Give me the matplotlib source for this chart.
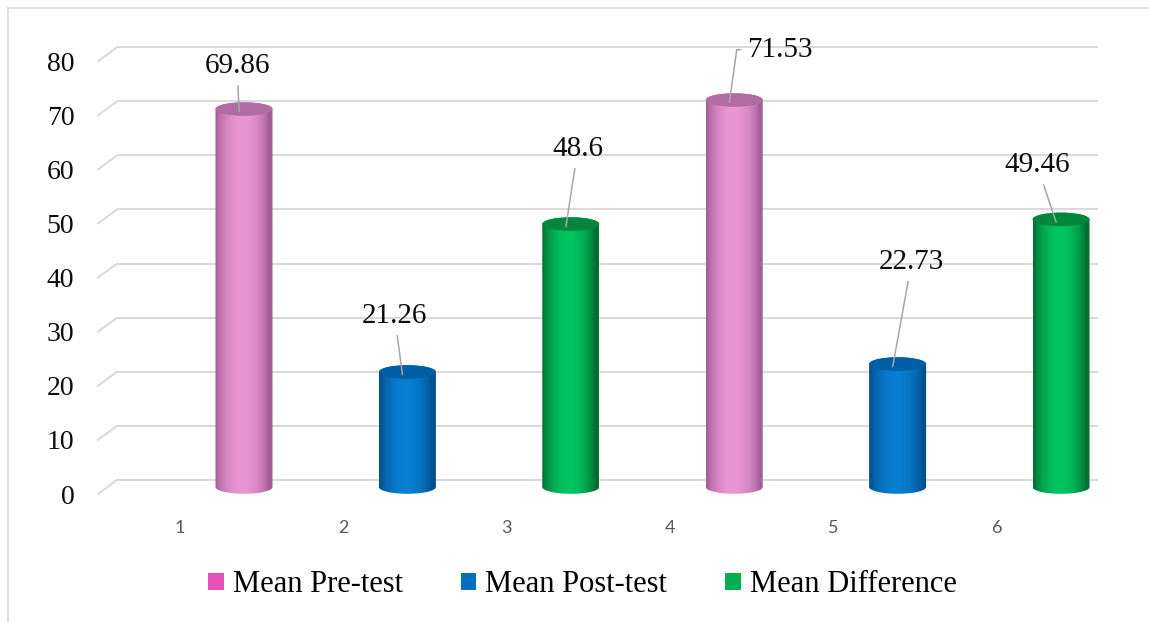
import numpy as np
import matplotlib
matplotlib.use("Agg")
import matplotlib.pyplot as plt
from matplotlib.patches import Patch, Polygon, Ellipse
from matplotlib.lines import Line2D
from matplotlib.colors import to_rgb

# chart data
categories = [1, 2, 3, 4, 5, 6]
series_names = ["Mean Pre-test", "Mean Post-test", "Mean Difference"]
bar_series = [0, 1, 2, 0, 1, 2]          # which series each bar belongs to
bar_values = [69.86, 21.26, 48.6, 71.53, 22.73, 49.46]
y_ticks = [0, 10, 20, 30, 40, 50, 60, 70, 80]

# colours per series: legend swatch, cylinder edge, cylinder centre, cap
legend_colors = ["#e552b8", "#0070c0", "#00b050"]
edge_colors = ["#a25c98", "#00508f", "#006f30"]
mid_colors = ["#ea96d2", "#0a7ed2", "#00c462"]
cap_colors = ["#b26ca4", "#005ea6", "#00873d"]

# label offsets from the top of each cylinder, in pixels
label_offsets = [(-2, 46), (-8, 59), (12, 78), (51, 53), (19, 105), (-19, 57)]

serif = "Liberation Serif"
W, H = 1149, 622
fig = plt.figure(figsize=(W / 100, H / 100), dpi=100)

# plot area in pixels: front edge x=98..1098, y zero at 494
px_per_cat = 163.4
px_per_unit = 5.41
ax_left, ax_right = 98, 1098
y0_px, top_px = 494, 30
ax = fig.add_axes([ax_left / W, 1 - y0_px / H,
                   (ax_right - ax_left) / W, (y0_px - top_px) / H])
xmin = 1 + (ax_left - 180) / px_per_cat
xmax = 1 + (ax_right - 180) / px_per_cat
ymax = (y0_px - top_px) / px_per_unit

# perspective: back wall sits up/right of the front edge
wall_dx = 19 / px_per_cat
wall_dy = 14 / px_per_unit
mid_dy = 7 / px_per_unit                 # cylinders stand at mid depth
bar_shift = 64 / px_per_cat
bar_w = 57 / px_per_cat
cap_h = 6.8 / px_per_unit

grid_c = "#d9d9d9"
for v in y_ticks:
    ax.plot([xmin + wall_dx, xmax], [v + wall_dy, v + wall_dy],
            color=grid_c, lw=1.4, zorder=1, solid_capstyle="butt", clip_on=False)
    ax.plot([xmin, xmin + wall_dx], [v, v + wall_dy],
            color=grid_c, lw=1.4, zorder=1, clip_on=False)


def gradient_row(edge, mid, n=200):
    u = np.linspace(0, 1, n)
    t = np.sin(np.pi * np.clip(u * 1.1 - 0.02, 0, 1)) ** 0.7
    e, m = np.array(to_rgb(edge)), np.array(to_rgb(mid))
    return (e[None, :] * (1 - t[:, None]) + m[None, :] * t[:, None])[None, :, :]


for cat, s, val in zip(categories, bar_series, bar_values):
    cx = cat + bar_shift
    a = bar_w / 2
    yb = mid_dy
    yt = val + mid_dy
    t_top = np.linspace(np.pi, 0, 60)
    t_bot = np.linspace(0, -np.pi, 60)
    pts = np.vstack([
        np.column_stack([cx + a * np.cos(t_top), yt + cap_h * np.sin(t_top)]),
        np.column_stack([cx + a * np.cos(t_bot), yb + cap_h * np.sin(t_bot)]),
    ])
    body = Polygon(pts, closed=True, facecolor="none", edgecolor="none",
                   transform=ax.transData)
    ax.add_patch(body)
    im = ax.imshow(gradient_row(edge_colors[s], mid_colors[s]),
                   extent=[cx - a, cx + a, yb - cap_h, yt + cap_h],
                   aspect="auto", zorder=3, interpolation="bilinear")
    im.set_clip_path(body)
    body.set_clip_on(False)
    im.set_clip_on(True)
    ax.add_patch(Ellipse((cx, yt), 2 * a, 2 * cap_h, facecolor=cap_colors[s],
                         edgecolor="none", zorder=4))

for i, (cat, val) in enumerate(zip(categories, bar_values)):
    cx = cat + bar_shift
    dx, dy = label_offsets[i]
    style = "arc3"
    rel = (0.5, 0.5)
    if i == 3:
        style = "angle,angleA=0,angleB=82,rad=0"
        rel = (0, 0.5)
    ax.annotate(f"{val:g}", xy=(cx - 0.03, val + mid_dy - 0.5),
                xytext=(dx * 0.72, dy * 0.72), textcoords="offset points",
                ha="center", va="center", fontsize=21, family=serif,
                color="#0d0d0d", zorder=6,
                arrowprops=dict(arrowstyle="-", color="#a6a6a6", lw=1.1,
                                shrinkA=3, shrinkB=0, connectionstyle=style,
                                relpos=rel))

ax.set_xlim(xmin, xmax)
ax.set_ylim(0, ymax)
ax.set_xticks(categories)
ax.set_xticklabels([str(c) for c in categories], family="Lato",
                   fontsize=13, color="#595959")
ax.set_yticks(y_ticks)
ax.set_yticklabels([str(v) for v in y_ticks], family=serif, fontsize=20,
                   color="#0d0d0d")
ax.tick_params(axis="x", length=0, pad=19)
ax.tick_params(axis="y", length=0, pad=17)
for sp in ax.spines.values():
    sp.set_visible(False)
ax.patch.set_visible(False)

handles = [Patch(facecolor=c, edgecolor="none") for c in legend_colors]
fig.legend(handles, series_names, loc="center", bbox_to_anchor=(0.507, 0.06),
           ncol=3, frameon=False, prop={"family": serif, "size": 22},
           handlelength=0.5, handleheight=0.5, handletextpad=0.3,
           columnspacing=1.9)

# chart frame
fig.add_artist(Line2D([8 / W, 8 / W], [0, 1 - 8 / H], color=grid_c, lw=1.2,
                      transform=fig.transFigure))
fig.add_artist(Line2D([8 / W, 1], [1 - 8 / H, 1 - 8 / H], color=grid_c, lw=1.2,
                      transform=fig.transFigure))

fig.savefig("out.png", dpi=100)
